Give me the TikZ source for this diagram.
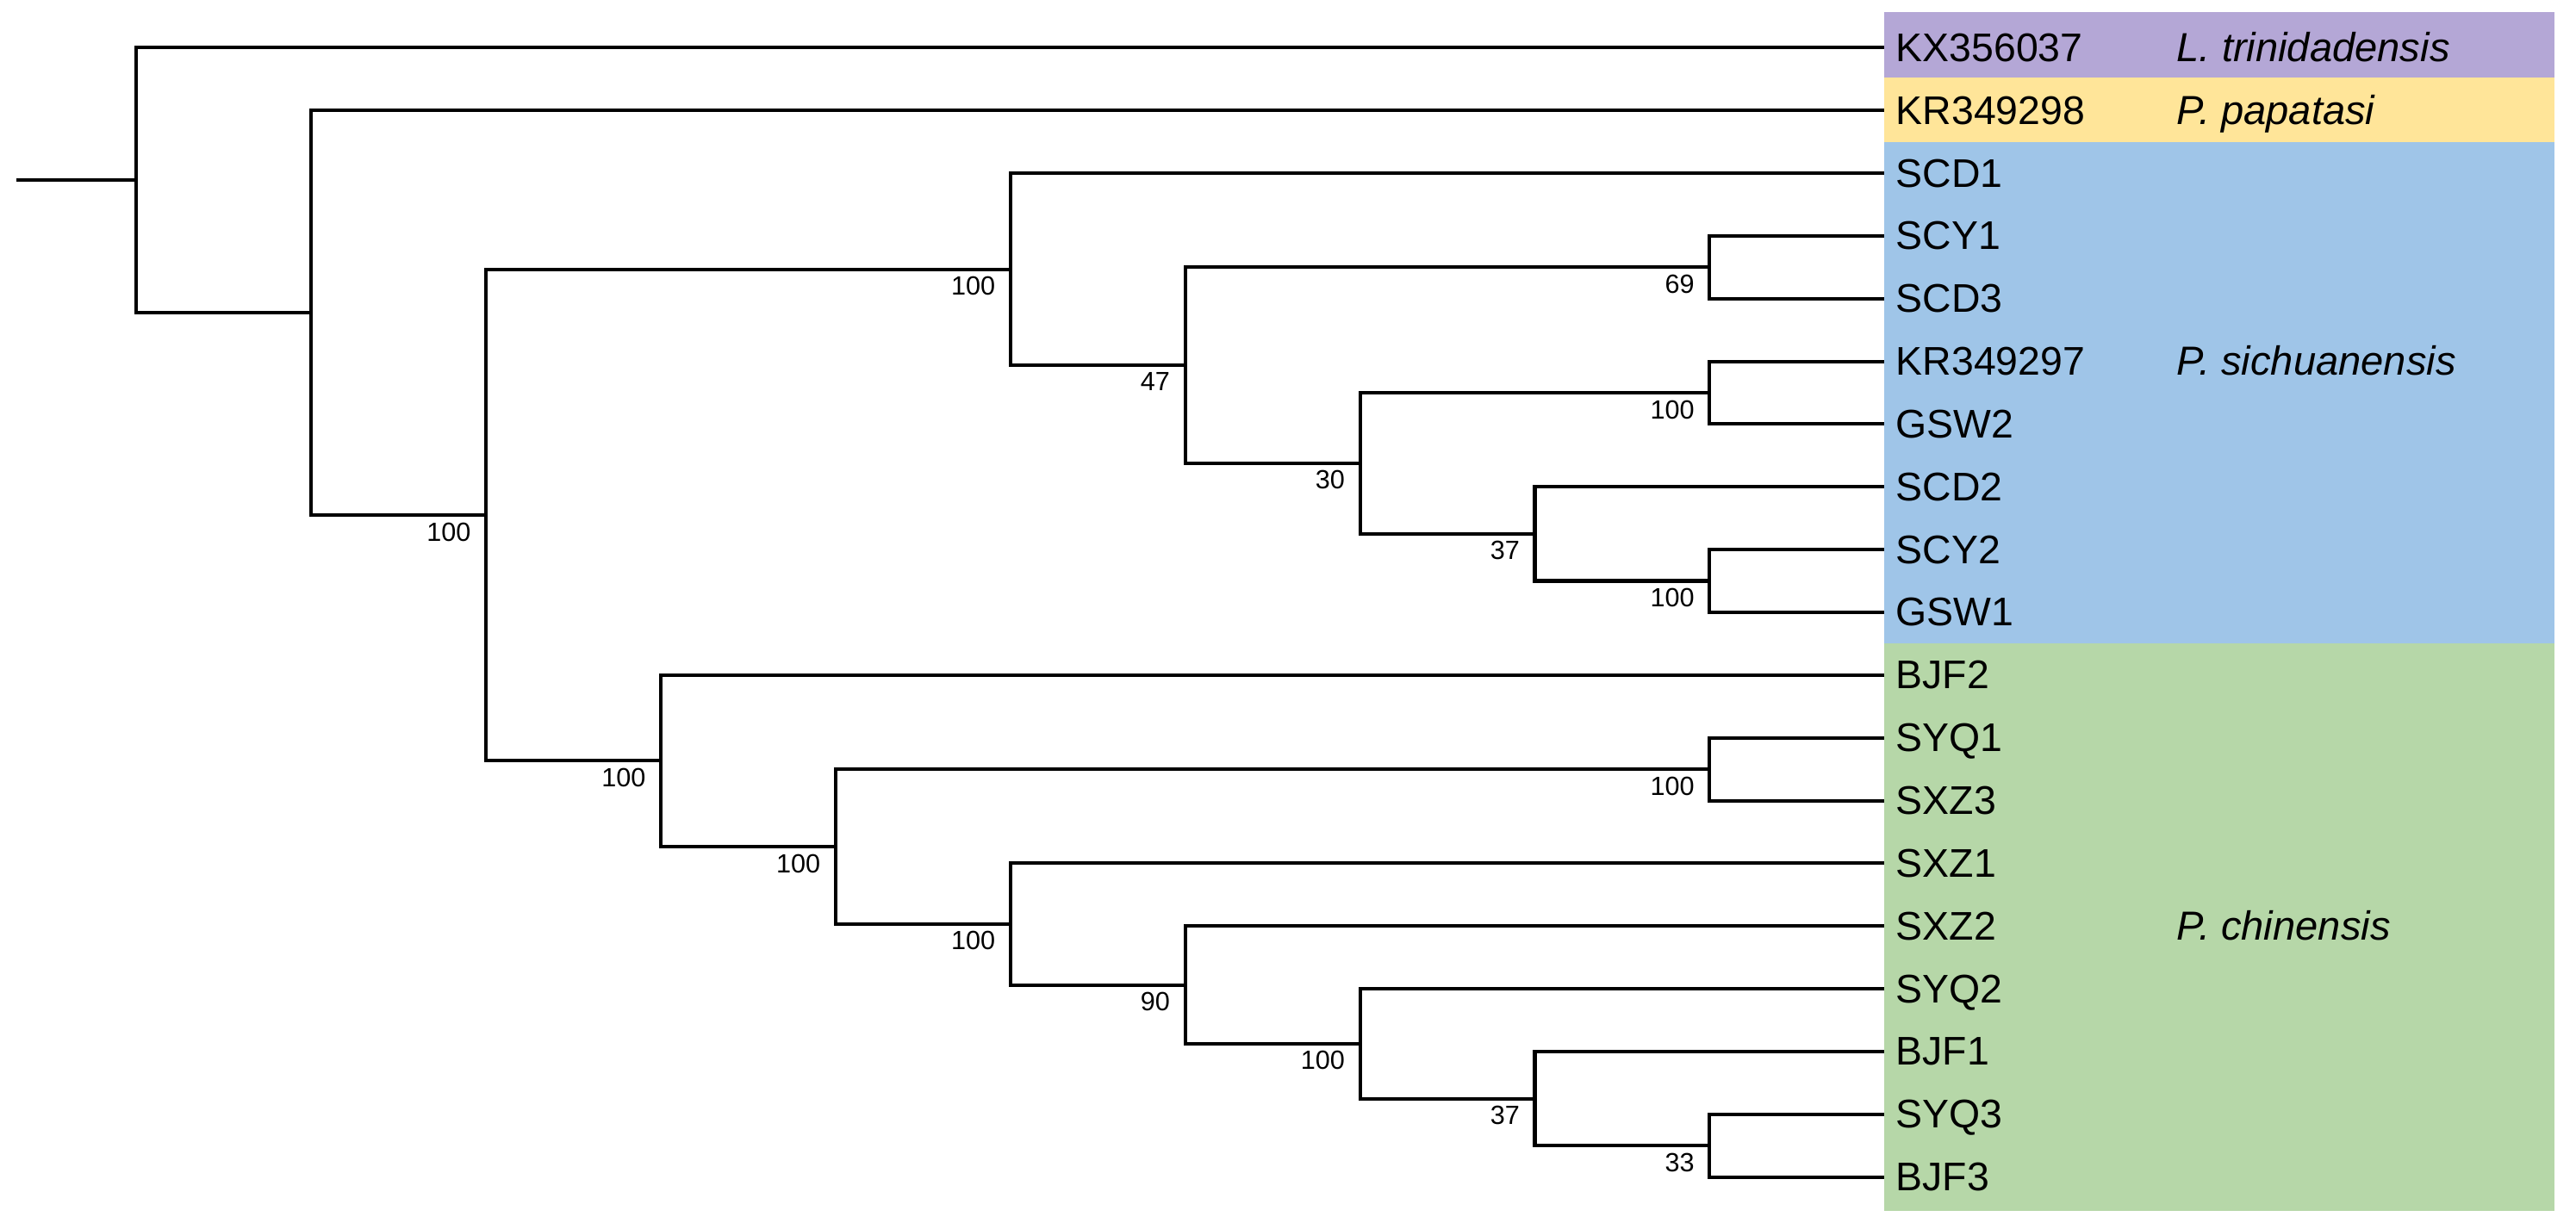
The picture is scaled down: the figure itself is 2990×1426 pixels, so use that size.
\documentclass[tikz,border=0pt]{standalone}
\usepackage{fontspec}
\setmainfont{Liberation Sans}
\definecolor{bpurple}{HTML}{B4A7D6}
\definecolor{byellow}{HTML}{FFE599}
\definecolor{bblue}{HTML}{9FC5E8}
\definecolor{bgreen}{HTML}{B6D7A8}
\begin{document}
\begin{tikzpicture}[x=0.01cm,y=-0.01cm,
  branch/.style={line width=1.15pt,black},
  leaflab/.style={anchor=base west,inner sep=0pt,yshift=-0.16cm,font=\fontsize{13.2}{15}\selectfont},
  species/.style={anchor=base west,inner sep=0pt,yshift=-0.16cm,font=\fontsize{13.4}{15}\selectfont\itshape},
  boot/.style={anchor=north east,inner sep=0pt,xshift=-0.17cm,yshift=-0.08cm,font=\fontsize{8.7}{10}\selectfont}]
\useasboundingbox (0,0) rectangle (2990,1426);
\fill[white] (0,0) rectangle (2990,1426);
% colour bands
\fill[bpurple] (2187,14) rectangle (2965,90);
\fill[byellow] (2187,90) rectangle (2965,165);
\fill[bblue] (2187,165) rectangle (2965,747.4);
\fill[bgreen] (2187,747.4) rectangle (2965,1406);
% leaves
\foreach \i/\t in {0/KX356037,1/KR349298,2/SCD1,3/SCY1,4/SCD3,5/KR349297,6/GSW2,7/SCD2,8/SCY2,9/GSW1,10/BJF2,11/SYQ1,12/SXZ3,13/SXZ1,14/SXZ2,15/SYQ2,16/BJF1,17/SYQ3,18/BJF3}{
  \coordinate (e\i) at (2187,{55.3+72.85*\i});
  \node[leaflab] (t\i) at (2200,{55.3+72.85*\i}) {\t};
}
% species names
\node[species] (sp0) at (2526,55.3) {L. trinidadensis};
\node[species] (sp1) at (2526,128.15) {P. papatasi};
\node[species] (sp2) at (2526,419.55) {P. sichuanensis};
\node[species] (sp3) at (2526,1075.2) {P. chinensis};
% internal nodes
\coordinate (R0) at (19,209.2);
\coordinate (R) at (158.3,209.2);
\coordinate (A) at (361.2,363.1);
\coordinate (B) at (564.1,598.0);
\coordinate (C) at (1172.8,312.55);
\coordinate (E) at (1375.7,424.1);
\coordinate (F) at (1984.4,310.3);
\coordinate (G) at (1578.6,537.9);
\coordinate (H) at (1984.4,456.0);
\coordinate (I) at (1781.5,619.9);
\coordinate (J) at (1984.4,674.5);
\coordinate (D) at (767.0,883.4);
\coordinate (K) at (969.9,983.0);
\coordinate (L) at (1984.4,893.1);
\coordinate (M) at (1172.8,1072.9);
\coordinate (N) at (1375.7,1143.5);
\coordinate (O) at (1578.6,1211.8);
\coordinate (P) at (1781.5,1275.55);
\coordinate (Q) at (1984.4,1330.2);
% branches
\draw[branch] (R0) -- (R);
\draw[branch] (R) |- (e0);
\draw[branch] (R) |- (A);
\draw[branch] (A) |- (e1);
\draw[branch] (A) |- (B);
\draw[branch] (B) |- (C);
\draw[branch] (B) |- (D);
\draw[branch] (C) |- (e2);
\draw[branch] (C) |- (E);
\draw[branch] (E) |- (F);
\draw[branch] (E) |- (G);
\draw[branch] (F) |- (e3);
\draw[branch] (F) |- (e4);
\draw[branch] (G) |- (H);
\draw[branch] (G) |- (I);
\draw[branch] (H) |- (e5);
\draw[branch] (H) |- (e6);
\draw[branch] (I) |- (e7);
\draw[branch] (I) |- (J);
\draw[branch] (J) |- (e8);
\draw[branch] (J) |- (e9);
\draw[branch] (D) |- (e10);
\draw[branch] (D) |- (K);
\draw[branch] (K) |- (L);
\draw[branch] (K) |- (M);
\draw[branch] (L) |- (e11);
\draw[branch] (L) |- (e12);
\draw[branch] (M) |- (e13);
\draw[branch] (M) |- (N);
\draw[branch] (N) |- (e14);
\draw[branch] (N) |- (O);
\draw[branch] (O) |- (e15);
\draw[branch] (O) |- (P);
\draw[branch] (P) |- (e16);
\draw[branch] (P) |- (Q);
\draw[branch] (Q) |- (e17);
\draw[branch] (Q) |- (e18);
% bootstrap values
\node[boot] (bB) at (B) {100};
\node[boot] (bC) at (C) {100};
\node[boot] (bE) at (E) {47};
\node[boot] (bF) at (F) {69};
\node[boot] (bG) at (G) {30};
\node[boot] (bH) at (H) {100};
\node[boot] (bI) at (I) {37};
\node[boot] (bJ) at (J) {100};
\node[boot] (bD) at (D) {100};
\node[boot] (bK) at (K) {100};
\node[boot] (bL) at (L) {100};
\node[boot] (bM) at (M) {100};
\node[boot] (bN) at (N) {90};
\node[boot] (bO) at (O) {100};
\node[boot] (bP) at (P) {37};
\node[boot] (bQ) at (Q) {33};
\end{tikzpicture}
\end{document}
